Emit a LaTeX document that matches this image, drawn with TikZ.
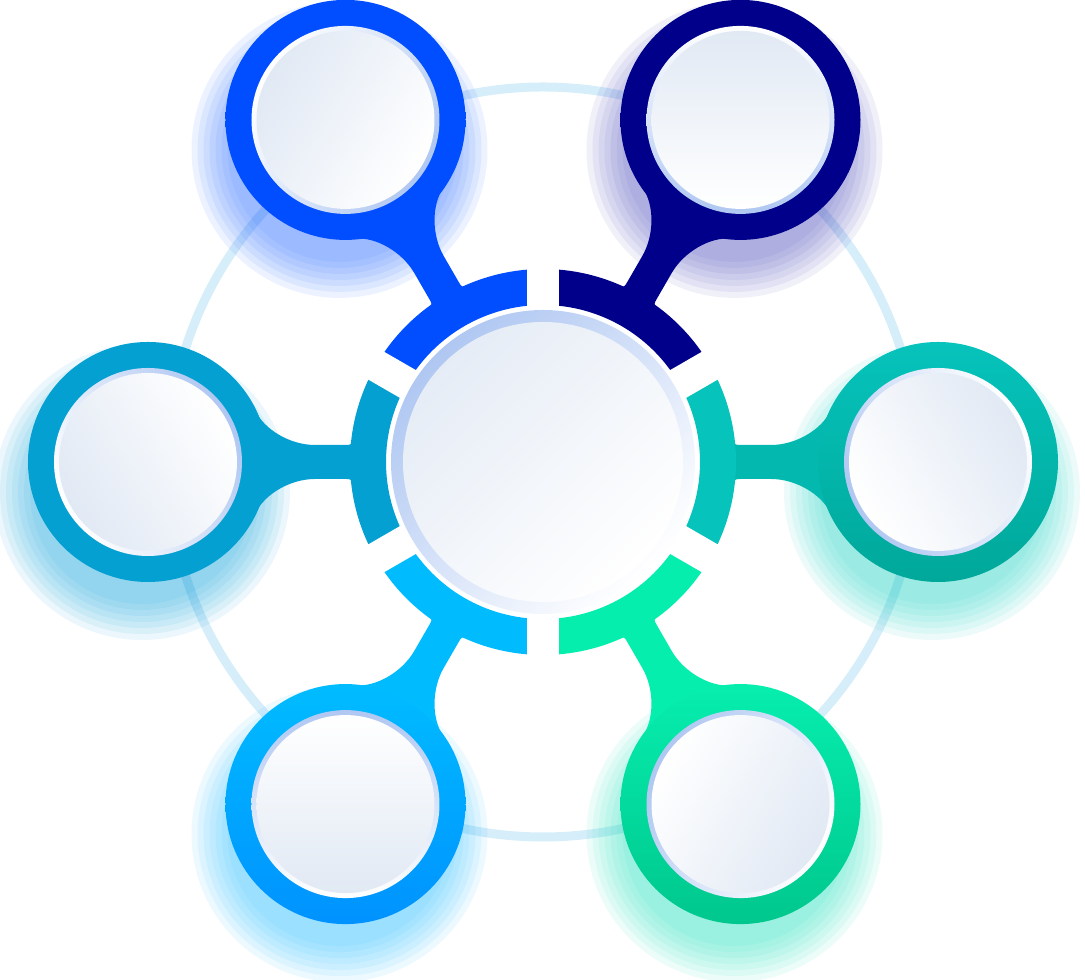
\documentclass[tikz,border=0pt]{standalone}
\usepackage{xcolor}
\usepackage{tikz}
\definecolor{RingTeal}{HTML}{06C3BB}
\definecolor{RingTealDark}{HTML}{00A89A}
\definecolor{RingTealMid}{HTML}{03B9AF}
\definecolor{RingNavy}{HTML}{00008A}
\definecolor{RingBlue}{HTML}{004EFF}
\definecolor{RingCyan}{HTML}{05A0D2}
\definecolor{RingSky}{HTML}{00BCFF}
\definecolor{RingSkyDark}{HTML}{0092FF}
\definecolor{RingMint}{HTML}{06EEAE}
\definecolor{RingMintDark}{HTML}{00C78D}
\definecolor{GlowTeal}{HTML}{30D5C8}
\definecolor{GlowNavy}{HTML}{5858C0}
\definecolor{GlowBlue}{HTML}{3070FF}
\definecolor{GlowCyan}{HTML}{20A8DD}
\definecolor{GlowSky}{HTML}{30BFFF}
\definecolor{GlowMint}{HTML}{30E3C0}
\definecolor{OrbitBlue}{HTML}{D6EDFA}
\definecolor{DiscShade}{HTML}{E1E9F4}
\definecolor{DiscEdge}{HTML}{AFC7F2}

\begin{document}
\begin{tikzpicture}[x=0.01cm, y=0.01cm,
  orbit/.style={draw=OrbitBlue, line width=0.09cm},
  gapline/.style={draw=white, line width=0.32cm},
  glow/.style={fill opacity=0.09}
]
\useasboundingbox (-543,-518) rectangle (542,462);
\coordinate (hub) at (0,0);

% faint orbit behind everything
\draw[orbit] (hub) circle (375);

% coloured glow under each bubble (stacked soft layers)
\foreach \ang/\glowcol in {0/GlowTeal, 60/GlowNavy, 120/GlowBlue, 180/GlowCyan, 240/GlowSky, 300/GlowMint}
  \foreach \r in {112,118,...,150}
    \fill[\glowcol, glow] ([shift={(-6,-30)}]\ang:395) circle (\r);

% arms: stem, bubble ring, arc segment
\foreach \ang/\ringtop/\ringbot/\stemcol/\segcol in {
    0/RingTeal/RingTealDark/RingTealMid/RingTeal,
    60/RingNavy/RingNavy/RingNavy/RingNavy,
    120/RingBlue/RingBlue/RingBlue/RingBlue,
    180/RingCyan/RingCyan/RingCyan/RingCyan,
    240/RingSky/RingSkyDark/RingSky/RingSky,
    300/RingMint/RingMintDark/RingMint/RingMint} {
  \begin{scope}[rotate=\ang]
    \fill[\stemcol] (190,22) .. controls (192,17) .. (199,17) -- (228,17)
      .. controls (253,17) and (278.7,32.6) .. (287.2,50.7) -- (395,0)
      -- (287.2,-50.7) .. controls (278.7,-32.6) and (253,-17) .. (228,-17)
      -- (199,-17) .. controls (192,-17) .. (190,-22) -- cycle;
    \fill[\segcol] (-30:193) arc[start angle=-30, end angle=30, radius=193]
      -- (30:157) arc[start angle=30, end angle=-30, radius=157] -- cycle;
  \end{scope}
  \coordinate (bub\ang) at (\ang:395);
  \shade[top color=\ringtop, bottom color=\ringbot] (bub\ang) circle (120);
}

% gaps between the segments
\foreach \ang in {30,90,...,330}
  \draw[gapline] (\ang:145) -- (\ang:200);

% inner discs of the bubbles
\foreach \ang in {0,60,...,300} {
  \shade[top color=DiscEdge, bottom color=white, shading angle=\ang+120] (bub\ang) circle (94);
  \shade[top color=DiscShade, bottom color=white, shading angle=\ang-60] (bub\ang) circle (89);
}

% centre disc
\shade[top color=DiscEdge, bottom color=white, shading angle=45] (hub) circle (152);
\shade[top color=DiscShade!85, bottom color=white, shading angle=45] (hub) circle (140);
\end{tikzpicture}
\end{document}
